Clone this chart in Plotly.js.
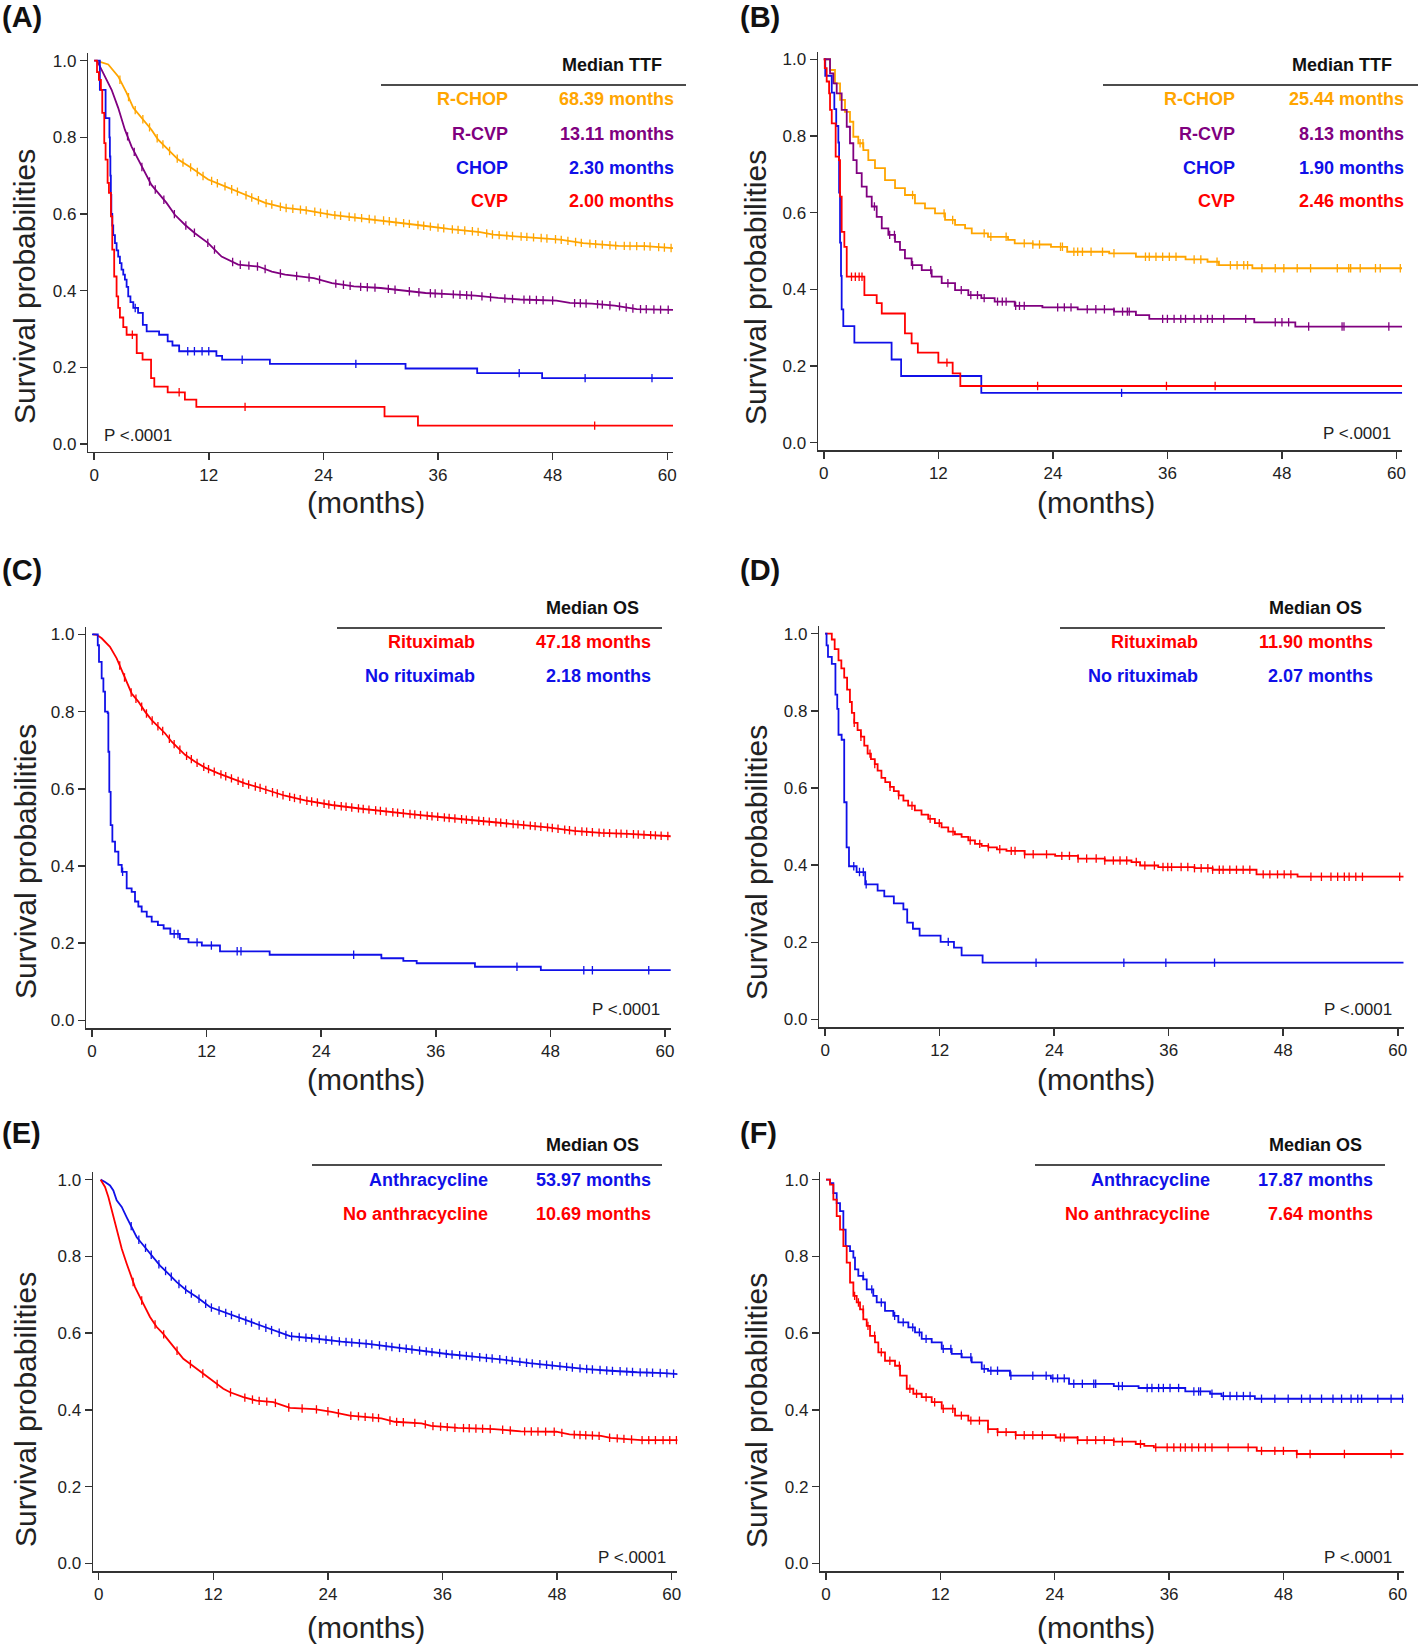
<!DOCTYPE html>
<html>
<head>
<meta charset="utf-8">
<script src="https://cdn.plot.ly/plotly-3.0.1.min.js"></script>
<style>
  body { margin: 0; background: #fff; }
  #plot { width: 1418px; height: 1646px; }
</style>
</head>
<body>
<div id="plot"></div>
<script>
// ===== DATA (months, survival probability) =====

// --- (A) TTF by regimen ---
var aRchopT = [0.2, 0.43, 1.48, 2.52, 3.4, 4.1, 5.14, 6.0, 6.7, 7.75, 8.8, 10.2, 11.94, 13.7, 15.8, 17.9, 20.0, 22.1, 24.9, 27.7, 31.0, 34.3, 37.1, 40.4, 41.8, 45.5, 48.8, 51.2, 54.9, 57.7, 60.6];
var aRchopS = [1.0, 0.998, 0.99, 0.959, 0.916, 0.877, 0.846, 0.82, 0.794, 0.768, 0.742, 0.72, 0.69, 0.672, 0.65, 0.629, 0.616, 0.61, 0.598, 0.59, 0.581, 0.57, 0.561, 0.553, 0.546, 0.54, 0.533, 0.524, 0.517, 0.516, 0.511];
var aRchopC = [2.7, 3.6, 4.3, 5.1, 5.8, 6.6, 7.2, 7.9, 8.7, 9.3, 10.1, 10.8, 11.4, 12.3, 12.9, 13.7, 14.4, 15.0, 15.9, 16.5, 17.2, 18.0, 18.6, 19.5, 20.1, 20.8, 21.6, 22.2, 23.1, 23.7, 24.4, 25.2, 25.8, 26.7, 27.3, 28.0, 28.8, 29.4, 30.3, 30.9, 31.6, 32.4, 33.0, 33.9, 34.5, 35.2, 36.0, 36.6, 37.5, 38.1, 38.8, 39.6, 40.2, 41.1, 41.7, 42.4, 43.2, 43.8, 44.7, 45.3, 46.0, 46.8, 47.4, 48.3, 48.9, 49.6, 50.4, 51.0, 51.9, 52.5, 53.2, 54.0, 54.6, 55.5, 56.1, 56.8, 57.6, 58.2, 59.1, 59.7, 60.4];

var aRcvpT = [0.3, 0.61, 1.13, 1.83, 2.52, 3.22, 3.92, 4.61, 5.31, 6.0, 6.7, 7.58, 8.45, 9.5, 10.55, 11.94, 13.34, 15.08, 17.2, 18.6, 20.0, 23.0, 24.9, 27.2, 30.0, 32.4, 34.7, 37.1, 39.9, 42.3, 44.6, 48.4, 49.8, 52.1, 54.5, 56.8, 60.6];
var aRcvpS = [1.0, 0.985, 0.959, 0.924, 0.877, 0.82, 0.776, 0.742, 0.707, 0.676, 0.655, 0.629, 0.598, 0.572, 0.55, 0.524, 0.489, 0.468, 0.463, 0.45, 0.442, 0.433, 0.42, 0.411, 0.407, 0.4, 0.394, 0.391, 0.387, 0.381, 0.377, 0.374, 0.368, 0.366, 0.361, 0.352, 0.35];
var aRcvpC = [3.5, 4.2, 5.0, 5.8, 6.4, 7.3, 8.4, 9.6, 10.5, 11.9, 12.6, 14.5, 15.3, 16.2, 17.1, 17.9, 19.5, 21.2, 22.5, 23.6, 25.3, 26.1, 26.8, 27.9, 28.6, 29.4, 30.8, 31.5, 33.0, 34.0, 35.2, 35.7, 36.4, 37.6, 38.3, 39.0, 39.5, 40.6, 41.5, 43.0, 43.8, 45.0, 45.6, 46.3, 47.0, 48.0, 50.3, 50.9, 51.5, 52.7, 53.2, 54.0, 55.0, 55.7, 56.4, 57.2, 57.8, 58.6, 59.3, 60.1];

var aChopT = [0, 0.6, 1.2, 1.6, 1.65, 1.7, 1.75, 1.8, 1.9, 2.0, 2.18, 2.35, 2.52, 2.7, 2.87, 3.05, 3.22, 3.4, 3.57, 3.8, 4.1, 4.6, 5.1, 5.5, 6.8, 7.7, 8.2, 8.9, 12.8, 13.4, 18.4, 32.6, 40.1, 46.9, 60.6];
var aChopS = [1, 0.924, 0.85, 0.8, 0.75, 0.7, 0.65, 0.6, 0.57, 0.545, 0.524, 0.505, 0.489, 0.472, 0.455, 0.442, 0.429, 0.41, 0.385, 0.37, 0.355, 0.342, 0.311, 0.294, 0.285, 0.268, 0.257, 0.242, 0.23, 0.22, 0.209, 0.197, 0.185, 0.172, 0.172];
var aChopC = [4.3, 9.8, 10.5, 11.3, 12.0, 15.5, 27.4, 44.5, 51.4, 58.4];

var aCvpT = [0, 0.3, 0.5, 0.71, 0.85, 1.06, 1.2, 1.41, 1.55, 1.76, 1.9, 2.1, 2.35, 2.52, 2.7, 3.05, 3.4, 4.46, 5.07, 5.96, 6.3, 7.7, 9.5, 10.7, 30.4, 33.9, 60.6];
var aCvpS = [1, 0.97, 0.95, 0.924, 0.864, 0.785, 0.742, 0.681, 0.655, 0.594, 0.507, 0.437, 0.385, 0.355, 0.33, 0.305, 0.285, 0.237, 0.22, 0.172, 0.15, 0.135, 0.116, 0.097, 0.072, 0.048, 0.048];
var aCvpC = [4.0, 8.9, 15.8, 52.4];

var aLabels = ['R-CHOP', 'R-CVP', 'CHOP', 'CVP'];
var aMedians = ['68.39 months', '13.11 months', '2.30 months', '2.00 months'];

// --- (B) TTF by regimen ---
var bRchopT = [0, 0.2, 0.65, 1.17, 1.7, 2.22, 2.74, 3.09, 3.61, 4.14, 4.66, 5.36, 6.41, 7.46, 8.5, 9.55, 10.6, 11.65, 12.7, 13.75, 14.8, 15.5, 17.2, 19.3, 20.0, 21.9, 23.8, 25.5, 29.9, 32.7, 37.9, 40.2, 41.4, 44.9, 60.6];
var bRchopS = [1, 1, 0.972, 0.937, 0.894, 0.863, 0.837, 0.798, 0.781, 0.763, 0.737, 0.716, 0.685, 0.664, 0.646, 0.624, 0.611, 0.598, 0.581, 0.568, 0.559, 0.546, 0.537, 0.529, 0.52, 0.517, 0.511, 0.498, 0.494, 0.485, 0.478, 0.472, 0.463, 0.455, 0.455];
var bRchopC = [3.8, 4.1, 9.3, 12.6, 13.5, 16.8, 17.5, 19.1, 21.0, 21.9, 22.6, 24.8, 25.0, 26.2, 26.6, 27.1, 28.0, 29.2, 30.4, 33.7, 34.1, 34.8, 35.5, 36.2, 36.9, 38.8, 39.5, 41.2, 42.6, 43.3, 44.0, 44.4, 45.9, 47.3, 48.2, 49.6, 51.0, 53.8, 55.0, 55.2, 56.2, 57.8, 58.3, 60.4];

var bRcvpT = [0, 0.2, 0.65, 1.0, 1.35, 1.87, 2.4, 2.74, 3.09, 3.44, 3.97, 4.49, 5.02, 5.54, 6.07, 6.76, 7.46, 7.98, 8.5, 9.2, 10.26, 11.3, 12.35, 13.75, 15.14, 16.5, 17.9, 20.0, 22.9, 26.6, 30.4, 32.7, 34.1, 45.1, 49.4, 60.6];
var bRcvpS = [1, 1, 0.963, 0.937, 0.911, 0.868, 0.824, 0.781, 0.737, 0.703, 0.668, 0.642, 0.616, 0.589, 0.559, 0.542, 0.524, 0.503, 0.481, 0.463, 0.45, 0.433, 0.416, 0.398, 0.385, 0.377, 0.368, 0.357, 0.353, 0.348, 0.342, 0.333, 0.323, 0.314, 0.303, 0.303];
var bRcvpC = [5.3, 6.9, 7.4, 9.3, 11.2, 13.0, 14.4, 15.4, 16.1, 16.8, 18.2, 18.7, 19.1, 20.1, 20.5, 21.0, 24.5, 25.2, 25.9, 27.6, 28.5, 29.4, 30.4, 31.3, 31.8, 32.0, 35.5, 36.0, 36.7, 37.4, 37.9, 38.8, 39.5, 40.2, 40.7, 41.9, 44.2, 47.3, 48.0, 48.7, 50.8, 54.3, 54.5, 59.2];

var bChopT = [0, 0.15, 0.83, 1.1, 1.3, 1.52, 1.6, 1.7, 1.8, 1.87, 2.04, 3.2, 7.1, 8.1, 16.5, 60.6];
var bChopS = [1, 0.957, 0.913, 0.87, 0.826, 0.783, 0.652, 0.522, 0.435, 0.348, 0.304, 0.261, 0.217, 0.174, 0.13, 0.13];
var bChopC = [31.2];

var bCvpT = [0, 0.1, 0.3, 0.55, 0.65, 0.83, 1.24, 1.59, 1.7, 1.87, 2.15, 2.4, 4.25, 5.54, 6.07, 8.5, 9.2, 9.85, 12.0, 13.5, 14.3, 60.6];
var bCvpS = [1, 0.977, 0.942, 0.911, 0.868, 0.833, 0.746, 0.737, 0.642, 0.55, 0.511, 0.433, 0.385, 0.364, 0.337, 0.285, 0.259, 0.235, 0.209, 0.181, 0.148, 0.148];
var bCvpC = [2.9, 3.3, 3.7, 4.0, 12.9, 22.4, 35.9, 41.0];

var bLabels = ['R-CHOP', 'R-CVP', 'CHOP', 'CVP'];
var bMedians = ['25.44 months', '8.13 months', '1.90 months', '2.46 months'];

// --- (C) OS, rituximab vs none ---
var cRituxT = [0.1, 0.5, 1.01, 1.88, 2.58, 3.1, 3.63, 4.15, 4.85, 5.55, 6.25, 6.95, 7.64, 8.34, 9.04, 9.74, 10.8, 11.83, 13.23, 14.6, 16.0, 17.4, 18.8, 20.2, 22.3, 25.1, 28.0, 30.8, 33.6, 36.4, 39.2, 42.1, 44.9, 47.7, 50.5, 53.3, 56.2, 58.5, 60.7];
var cRituxS = [1, 0.999, 0.99, 0.968, 0.938, 0.908, 0.873, 0.847, 0.826, 0.8, 0.778, 0.761, 0.744, 0.722, 0.705, 0.688, 0.67, 0.655, 0.64, 0.627, 0.614, 0.604, 0.592, 0.582, 0.57, 0.558, 0.549, 0.541, 0.534, 0.527, 0.52, 0.514, 0.507, 0.5, 0.491, 0.486, 0.483, 0.48, 0.477];
var cRituxC = [2.9, 3.4, 4.1, 4.6, 5.2, 5.7, 6.3, 6.9, 7.4, 8.1, 8.6, 9.2, 9.9, 10.4, 11.0, 11.7, 12.2, 12.8, 13.5, 14.0, 14.6, 15.3, 15.8, 16.4, 17.1, 17.6, 18.2, 18.9, 19.4, 20.0, 20.7, 21.2, 21.8, 22.5, 23.0, 23.6, 24.3, 24.8, 25.4, 26.1, 26.6, 27.2, 27.9, 28.4, 29.0, 29.7, 30.2, 30.8, 31.5, 32.0, 32.6, 33.3, 33.8, 34.4, 35.1, 35.6, 36.2, 36.9, 37.4, 38.0, 38.7, 39.2, 39.8, 40.5, 41.0, 41.6, 42.3, 42.8, 43.4, 44.1, 44.6, 45.2, 45.9, 46.4, 47.0, 47.7, 48.2, 48.8, 49.5, 50.0, 50.6, 51.3, 51.8, 52.4, 53.1, 53.6, 54.2, 54.9, 55.4, 56.0, 56.7, 57.2, 57.8, 58.5, 59.0, 59.6, 60.3];

var cNoRituxT = [0, 0.2, 0.6, 0.73, 1.01, 1.19, 1.36, 1.64, 1.71, 1.81, 1.95, 2.13, 2.41, 2.76, 3.11, 3.63, 4.15, 4.5, 4.85, 5.2, 5.73, 6.25, 6.9, 7.5, 8.2, 9.2, 10.1, 11.5, 13.4, 18.6, 30.3, 32.6, 34.0, 40.1, 47.0, 60.7];
var cNoRituxS = [1, 1, 0.972, 0.929, 0.886, 0.852, 0.8, 0.796, 0.696, 0.592, 0.506, 0.463, 0.437, 0.403, 0.385, 0.342, 0.333, 0.308, 0.295, 0.282, 0.269, 0.256, 0.247, 0.238, 0.224, 0.211, 0.202, 0.194, 0.179, 0.17, 0.161, 0.154, 0.148, 0.139, 0.13, 0.13];
var cNoRituxC = [3.2, 8.6, 9.0, 11.0, 12.5, 15.2, 15.6, 27.4, 44.5, 51.5, 52.4, 58.3];

var cLabels = ['Rituximab', 'No rituximab'];
var cMedians = ['47.18 months', '2.18 months'];

// --- (D) OS, rituximab vs none ---
var dRituxT = [0, 0.2, 0.7, 1.0, 1.4, 1.7, 2.0, 2.3, 2.6, 2.8, 3.05, 3.4, 3.75, 4.1, 4.45, 4.8, 5.2, 5.5, 5.9, 6.3, 6.8, 7.2, 7.7, 8.2, 8.7, 9.4, 10.1, 10.8, 11.5, 12.2, 12.9, 13.6, 14.3, 15.0, 15.7, 16.4, 17.1, 18.0, 19.0, 20.9, 24.1, 26.5, 29.3, 32.1, 33.0, 34.9, 38.7, 40.6, 45.2, 49.5, 60.7];
var dRituxS = [1, 1, 0.985, 0.96, 0.931, 0.91, 0.886, 0.855, 0.823, 0.795, 0.769, 0.75, 0.733, 0.71, 0.689, 0.675, 0.662, 0.645, 0.626, 0.615, 0.603, 0.592, 0.581, 0.567, 0.554, 0.542, 0.531, 0.52, 0.509, 0.498, 0.487, 0.48, 0.473, 0.464, 0.455, 0.45, 0.446, 0.441, 0.437, 0.428, 0.424, 0.417, 0.412, 0.408, 0.399, 0.395, 0.392, 0.388, 0.376, 0.37, 0.37];
var dRituxC = [3.05, 3.75, 4.7, 5.2, 6.8, 7.7, 9.1, 11.0, 11.96, 13.4, 15.2, 16.2, 17.1, 18.3, 19.5, 19.9, 20.9, 21.8, 23.2, 24.8, 25.6, 26.5, 27.4, 28.4, 29.3, 30.2, 30.9, 31.6, 32.6, 33.5, 34.5, 35.4, 35.9, 36.3, 37.3, 38.0, 38.7, 39.4, 40.1, 40.6, 41.3, 41.7, 42.4, 43.1, 43.8, 44.5, 45.9, 46.6, 47.4, 48.1, 48.8, 50.9, 52.0, 53.0, 53.7, 54.4, 54.9, 55.6, 56.3, 60.2];

var dNoRituxT = [0, 0.15, 0.3, 0.7, 1.08, 1.27, 1.4, 1.73, 2.0, 2.25, 2.5, 3.3, 4.2, 5.5, 6.2, 7.2, 8.2, 8.6, 9.2, 9.9, 12.1, 13.5, 14.3, 16.5, 60.7];
var dNoRituxS = [1, 0.97, 0.94, 0.922, 0.842, 0.805, 0.738, 0.725, 0.563, 0.446, 0.397, 0.382, 0.35, 0.334, 0.319, 0.301, 0.285, 0.251, 0.235, 0.217, 0.201, 0.186, 0.166, 0.147, 0.147];
var dNoRituxC = [3.0, 3.6, 4.0, 4.3, 12.9, 22.1, 31.3, 35.7, 40.8];

var dLabels = ['Rituximab', 'No rituximab'];
var dMedians = ['11.90 months', '2.07 months'];

// --- (E) OS, anthracycline vs none ---
var eAnthT = [0.2, 0.66, 1.18, 1.53, 1.88, 2.41, 2.93, 3.46, 3.98, 4.67, 5.55, 6.42, 7.29, 8.17, 9.21, 10.26, 11.65, 13.05, 14.45, 15.84, 17.24, 18.64, 20.03, 22.6, 25.4, 28.2, 31.0, 33.8, 36.7, 39.5, 42.3, 45.1, 47.9, 50.8, 53.6, 56.4, 59.2, 60.7];
var eAnthS = [1, 0.994, 0.985, 0.972, 0.946, 0.929, 0.902, 0.876, 0.85, 0.829, 0.803, 0.776, 0.755, 0.733, 0.711, 0.694, 0.668, 0.655, 0.642, 0.629, 0.616, 0.603, 0.592, 0.586, 0.578, 0.572, 0.563, 0.554, 0.545, 0.538, 0.531, 0.522, 0.515, 0.507, 0.502, 0.498, 0.496, 0.493];
var eAnthC = [3.4, 4.2, 4.9, 5.5, 6.3, 7.0, 7.6, 8.4, 9.1, 9.7, 10.5, 11.2, 11.8, 12.6, 13.3, 13.9, 14.7, 15.4, 16.0, 16.8, 17.5, 18.1, 18.9, 19.6, 20.2, 21.0, 21.7, 22.3, 23.1, 23.8, 24.4, 25.2, 25.9, 26.5, 27.3, 28.0, 28.6, 29.4, 30.1, 30.7, 31.5, 32.2, 32.8, 33.6, 34.3, 34.9, 35.7, 36.4, 37.0, 37.8, 38.5, 39.1, 39.9, 40.6, 41.2, 42.0, 42.7, 43.3, 44.1, 44.8, 45.4, 46.2, 46.9, 47.5, 48.3, 49.0, 49.6, 50.4, 51.1, 51.7, 52.5, 53.2, 53.8, 54.6, 55.3, 55.9, 56.7, 57.4, 58.0, 58.8, 59.5, 60.2];

var eNoAnthT = [0.2, 0.66, 1.01, 1.36, 1.71, 2.05, 2.41, 2.93, 3.28, 3.8, 4.32, 4.85, 5.37, 6.07, 6.76, 7.47, 8.17, 8.86, 9.56, 10.26, 10.95, 11.65, 12.36, 13.05, 13.75, 15.14, 16.54, 18.28, 20.03, 22.6, 24.4, 26.3, 29.6, 31.0, 33.8, 34.8, 37.6, 41.4, 44.2, 47.9, 49.3, 52.6, 53.6, 56.8, 60.7];
var eNoAnthS = [1, 0.981, 0.955, 0.92, 0.885, 0.85, 0.82, 0.781, 0.755, 0.72, 0.694, 0.668, 0.642, 0.616, 0.598, 0.576, 0.555, 0.533, 0.52, 0.507, 0.494, 0.481, 0.468, 0.455, 0.446, 0.433, 0.424, 0.42, 0.405, 0.402, 0.395, 0.385, 0.378, 0.369, 0.365, 0.358, 0.353, 0.35, 0.344, 0.343, 0.336, 0.332, 0.327, 0.321, 0.321];
var eNoAnthC = [3.6, 4.5, 5.9, 6.8, 8.2, 9.6, 10.9, 12.4, 13.8, 15.3, 16.1, 16.8, 17.6, 18.5, 19.9, 21.3, 22.8, 24.0, 25.1, 26.4, 27.2, 27.9, 28.7, 29.3, 30.5, 31.2, 31.9, 33.1, 34.2, 35.0, 35.8, 36.5, 37.3, 38.2, 38.8, 39.5, 40.2, 41.0, 42.3, 43.1, 44.6, 45.3, 46.0, 46.8, 47.7, 48.5, 49.8, 50.4, 51.0, 51.7, 52.4, 53.5, 54.3, 55.0, 55.8, 56.9, 57.6, 58.3, 59.1, 59.8, 60.5];

var eLabels = ['Anthracycline', 'No anthracycline'];
var eMedians = ['53.97 months', '10.69 months'];

// --- (F) OS, anthracycline vs none ---
var fAnthT = [0, 0.2, 0.42, 0.77, 1.12, 1.47, 1.82, 2.06, 2.52, 2.87, 3.04, 3.39, 3.91, 4.27, 4.96, 5.32, 6.19, 7.06, 7.59, 8.64, 9.34, 10.04, 11.09, 12.14, 13.19, 14.24, 15.29, 16.34, 17.0, 19.3, 23.6, 25.5, 30.2, 32.8, 37.7, 40.3, 41.5, 45.0, 60.7];
var fAnthS = [1, 1, 0.991, 0.965, 0.939, 0.918, 0.87, 0.827, 0.814, 0.797, 0.766, 0.749, 0.74, 0.714, 0.697, 0.68, 0.658, 0.645, 0.628, 0.615, 0.602, 0.585, 0.576, 0.559, 0.546, 0.537, 0.524, 0.507, 0.502, 0.489, 0.482, 0.468, 0.462, 0.457, 0.448, 0.442, 0.436, 0.429, 0.429];
var fAnthC = [3.9, 4.8, 5.8, 7.2, 8.1, 9.1, 9.8, 10.5, 12.3, 13.1, 14.2, 15.2, 16.6, 17.3, 18.0, 19.4, 21.7, 23.1, 23.8, 24.3, 25.0, 26.0, 26.9, 28.1, 28.3, 30.7, 31.1, 33.7, 34.2, 34.9, 35.4, 36.1, 37.0, 38.6, 39.1, 39.3, 40.5, 41.7, 42.4, 43.1, 43.8, 44.5, 45.7, 47.1, 48.5, 49.9, 50.8, 52.0, 53.2, 54.1, 55.1, 55.8, 56.2, 57.9, 59.3, 60.5];

var fNoAnthT = [0, 0.2, 0.42, 0.77, 1.12, 1.47, 1.82, 2.17, 2.52, 2.87, 3.22, 3.57, 3.91, 4.27, 4.62, 5.14, 5.49, 6.19, 7.24, 7.77, 8.47, 9.16, 10.04, 11.09, 12.14, 13.54, 14.93, 17.0, 18.0, 19.9, 24.1, 26.4, 30.2, 32.5, 33.4, 34.4, 45.2, 49.4, 60.7];
var fNoAnthS = [1, 1, 0.987, 0.948, 0.905, 0.87, 0.827, 0.784, 0.732, 0.697, 0.68, 0.662, 0.636, 0.619, 0.593, 0.576, 0.55, 0.528, 0.515, 0.489, 0.455, 0.442, 0.433, 0.42, 0.403, 0.385, 0.372, 0.35, 0.342, 0.334, 0.328, 0.321, 0.317, 0.311, 0.306, 0.302, 0.293, 0.285, 0.285];
var fNoAnthC = [3.0, 3.4, 3.9, 4.4, 5.1, 5.8, 6.7, 7.7, 8.8, 9.5, 10.5, 11.4, 12.3, 13.3, 14.2, 15.2, 16.1, 17.0, 18.0, 18.9, 19.9, 20.8, 21.7, 22.7, 24.6, 25.0, 26.4, 27.4, 28.3, 29.2, 30.2, 31.1, 33.0, 34.6, 35.8, 36.5, 37.2, 37.7, 38.4, 39.1, 39.8, 40.5, 42.2, 44.3, 45.7, 47.1, 48.0, 49.4, 50.8, 54.4, 59.3];

var fLabels = ['Anthracycline', 'No anthracycline'];
var fMedians = ['17.87 months', '7.64 months'];

var xTicks = [0, 12, 24, 36, 48, 60];
var yTicks = [0, 0.2, 0.4, 0.6, 0.8, 1.0];

// ===== DRAWING =====
const W = 1418, H = 1646;
const FONT = 'Arial, "Liberation Sans", sans-serif';
const ORANGE = '#FFA500', PURPLE = '#800080', BLUE = '#1010E8', RED = '#FF0000';

function px(x) { return x / W; }
function py(y) { return 1 - y / H; }

// value of the drawn curve at time c
function curveAt(t, s, c, shape) {
    if (c <= t[0]) return s[0];
    for (let i = 1; i < t.length; i++) {
        if (c < t[i]) {
            if (shape === 'hv') return s[i - 1];
            const f = (c - t[i - 1]) / (t[i] - t[i - 1]);
            return s[i - 1] + f * (s[i] - s[i - 1]);
        }
    }
    return s[s.length - 1];
}

function kmTraces(t, s, cens, color, shape, n) {
    const xa = n === 1 ? 'x' : 'x' + n;
    const ya = n === 1 ? 'y' : 'y' + n;
    return [
        {
            x: t, y: s, type: 'scatter', mode: 'lines',
            line: { color: color, width: 1.8, shape: shape },
            xaxis: xa, yaxis: ya, hoverinfo: 'skip', showlegend: false
        },
        {
            x: cens, y: cens.map(c => curveAt(t, s, c, shape)),
            type: 'scatter', mode: 'markers',
            marker: { symbol: 'line-ns', size: 6, color: color, line: { color: color, width: 1.3 } },
            xaxis: xa, yaxis: ya, hoverinfo: 'skip', showlegend: false
        }
    ];
}

// panel geometry in page pixels
const panels = [
    {
        n: 1, dom: [88.4, 673, 53, 451.7], letter: '(A)', lx: 0, ly: 17,
        header: 'Median TTF', hx: 612, hy: 65, line: [381, 686, 85], labR: 510, valR: 676,
        rows: [99, 133.5, 167.5, 201.5], labels: aLabels, medians: aMedians,
        colors: [ORANGE, PURPLE, BLUE, RED],
        curves: [[aRchopT, aRchopS, aRchopC, ORANGE, 'linear'], [aRcvpT, aRcvpS, aRcvpC, PURPLE, 'linear'],
                 [aChopT, aChopS, aChopC, BLUE, 'hv'], [aCvpT, aCvpS, aCvpC, RED, 'hv']],
        p: [102, 436, 'left'], xt: [366, 503], yt: [25, 287]
    },
    {
        n: 2, dom: [818.1, 1402.2, 51.6, 450.4], letter: '(B)', lx: 738, ly: 17,
        header: 'Median TTF', hx: 1342, hy: 65, line: [1103, 1418, 85], labR: 1237, valR: 1406,
        rows: [99, 133.5, 167.5, 201.5], labels: bLabels, medians: bMedians,
        colors: [ORANGE, PURPLE, BLUE, RED],
        curves: [[bRchopT, bRchopS, bRchopC, ORANGE, 'hv'], [bRcvpT, bRcvpS, bRcvpC, PURPLE, 'hv'],
                 [bChopT, bChopS, bChopC, BLUE, 'hv'], [bCvpT, bCvpS, bCvpC, RED, 'hv']],
        p: [1393, 433, 'right'], xt: [1096, 503], yt: [756, 287]
    },
    {
        n: 3, dom: [86.3, 670.7, 626.7, 1028.1], letter: '(C)', lx: 0, ly: 570,
        header: 'Median OS', hx: 592, hy: 607.5, line: [337, 662, 628], labR: 477, valR: 652.5,
        rows: [642, 676.5], labels: cLabels, medians: cMedians, colors: [RED, BLUE],
        curves: [[cRituxT, cRituxS, cRituxC, RED, 'linear'], [cNoRituxT, cNoRituxS, cNoRituxC, BLUE, 'hv']],
        p: [662, 1010, 'right'], xt: [366, 1079], yt: [25, 862]
    },
    {
        n: 4, dom: [819.4, 1403.5, 626, 1027.1], letter: '(D)', lx: 738, ly: 570,
        header: 'Median OS', hx: 1315, hy: 607.5, line: [1060, 1385, 628], labR: 1199.5, valR: 1375,
        rows: [642, 676.5], labels: dLabels, medians: dMedians, colors: [RED, BLUE],
        curves: [[dRituxT, dRituxS, dRituxC, RED, 'hv'], [dNoRituxT, dNoRituxS, dNoRituxC, BLUE, 'hv']],
        p: [1394, 1010, 'right'], xt: [1096, 1079], yt: [756, 862]
    },
    {
        n: 5, dom: [93, 677.4, 1172, 1571], letter: '(E)', lx: 0, ly: 1133,
        header: 'Median OS', hx: 592.5, hy: 1145, line: [312, 662, 1165], labR: 489.5, valR: 652.5,
        rows: [1179.5, 1214], labels: eLabels, medians: eMedians, colors: [BLUE, RED],
        curves: [[eAnthT, eAnthS, eAnthC, BLUE, 'linear'], [eNoAnthT, eNoAnthS, eNoAnthC, RED, 'linear']],
        p: [668, 1557, 'right'], xt: [366, 1627], yt: [25, 1410]
    },
    {
        n: 6, dom: [820.3, 1403.5, 1172, 1571], letter: '(F)', lx: 738, ly: 1133,
        header: 'Median OS', hx: 1315, hy: 1145, line: [1035, 1385, 1165], labR: 1212, valR: 1375,
        rows: [1179.5, 1214], labels: fLabels, medians: fMedians, colors: [BLUE, RED],
        curves: [[fAnthT, fAnthS, fAnthC, BLUE, 'hv'], [fNoAnthT, fNoAnthS, fNoAnthC, RED, 'hv']],
        p: [1394, 1557, 'right'], xt: [1096, 1627], yt: [756, 1410]
    }
];

const data = [];
const annotations = [];
const shapes = [];
const layout = {
    width: W, height: H,
    margin: { l: 0, r: 0, t: 0, b: 0 },
    paper_bgcolor: '#fff', plot_bgcolor: 'rgba(0,0,0,0)',
    showlegend: false,
    font: { family: FONT, color: '#222' }
};

function ann(text, x, y, size, color, xanchor, extra) {
    return Object.assign({
        text: text, x: px(x), y: py(y), xref: 'paper', yref: 'paper',
        xanchor: xanchor, yanchor: 'middle', showarrow: false,
        font: { family: FONT, size: size, color: color }
    }, extra || {});
}

panels.forEach(p => {
    const sx = p.n === 1 ? '' : p.n;
    layout['xaxis' + sx] = {
        domain: [px(p.dom[0]), px(p.dom[1])], range: [-0.6, 60.6],
        anchor: 'y' + sx, tickvals: xTicks, ticks: 'outside', ticklen: 7, tickwidth: 1.5,
        tickcolor: '#333', showline: true, linecolor: '#333', linewidth: 1.5,
        showgrid: false, zeroline: false, tickfont: { size: 17, color: '#222' }, fixedrange: true
    };
    layout['yaxis' + sx] = {
        domain: [py(p.dom[3]), py(p.dom[2])], range: [-0.02, 1.02],
        anchor: 'x' + sx, tickvals: yTicks, tickformat: '.1f', ticks: 'outside', ticklen: 7, tickwidth: 1.5,
        tickcolor: '#333', showline: true, linecolor: '#333', linewidth: 1.5,
        showgrid: false, zeroline: false, tickfont: { size: 17, color: '#222' }, fixedrange: true
    };

    p.curves.forEach(c => {
        kmTraces(c[0], c[1], c[2], c[3], c[4], p.n).forEach(tr => data.push(tr));
    });

    annotations.push(ann('<b>' + p.letter + '</b>', p.lx, p.ly, 29, '#111', 'left'));
    annotations.push(ann('<b>' + p.header + '</b>', p.hx, p.hy, 18, '#111', 'center'));
    shapes.push({
        type: 'line', xref: 'paper', yref: 'paper',
        x0: px(p.line[0]), x1: px(p.line[1]), y0: py(p.line[2]), y1: py(p.line[2]),
        line: { color: '#111', width: 1.5 }
    });
    p.labels.forEach((lab, i) => {
        annotations.push(ann('<b>' + lab + '</b>', p.labR, p.rows[i], 18, p.colors[i], 'right'));
        annotations.push(ann('<b>' + p.medians[i] + '</b>', p.valR, p.rows[i], 18, p.colors[i], 'right'));
    });
    annotations.push(ann('P <.0001', p.p[0], p.p[1], 17, '#222', p.p[2]));
    annotations.push(ann('(months)', p.xt[0], p.xt[1], 30, '#222', 'center'));
    annotations.push(ann('Survival probabilities', p.yt[0], p.yt[1], 30, '#222', 'center', { textangle: -90 }));
});

layout.annotations = annotations;
layout.shapes = shapes;

Plotly.newPlot('plot', data, layout, { displayModeBar: false, staticPlot: true });
</script>
</body>
</html>
